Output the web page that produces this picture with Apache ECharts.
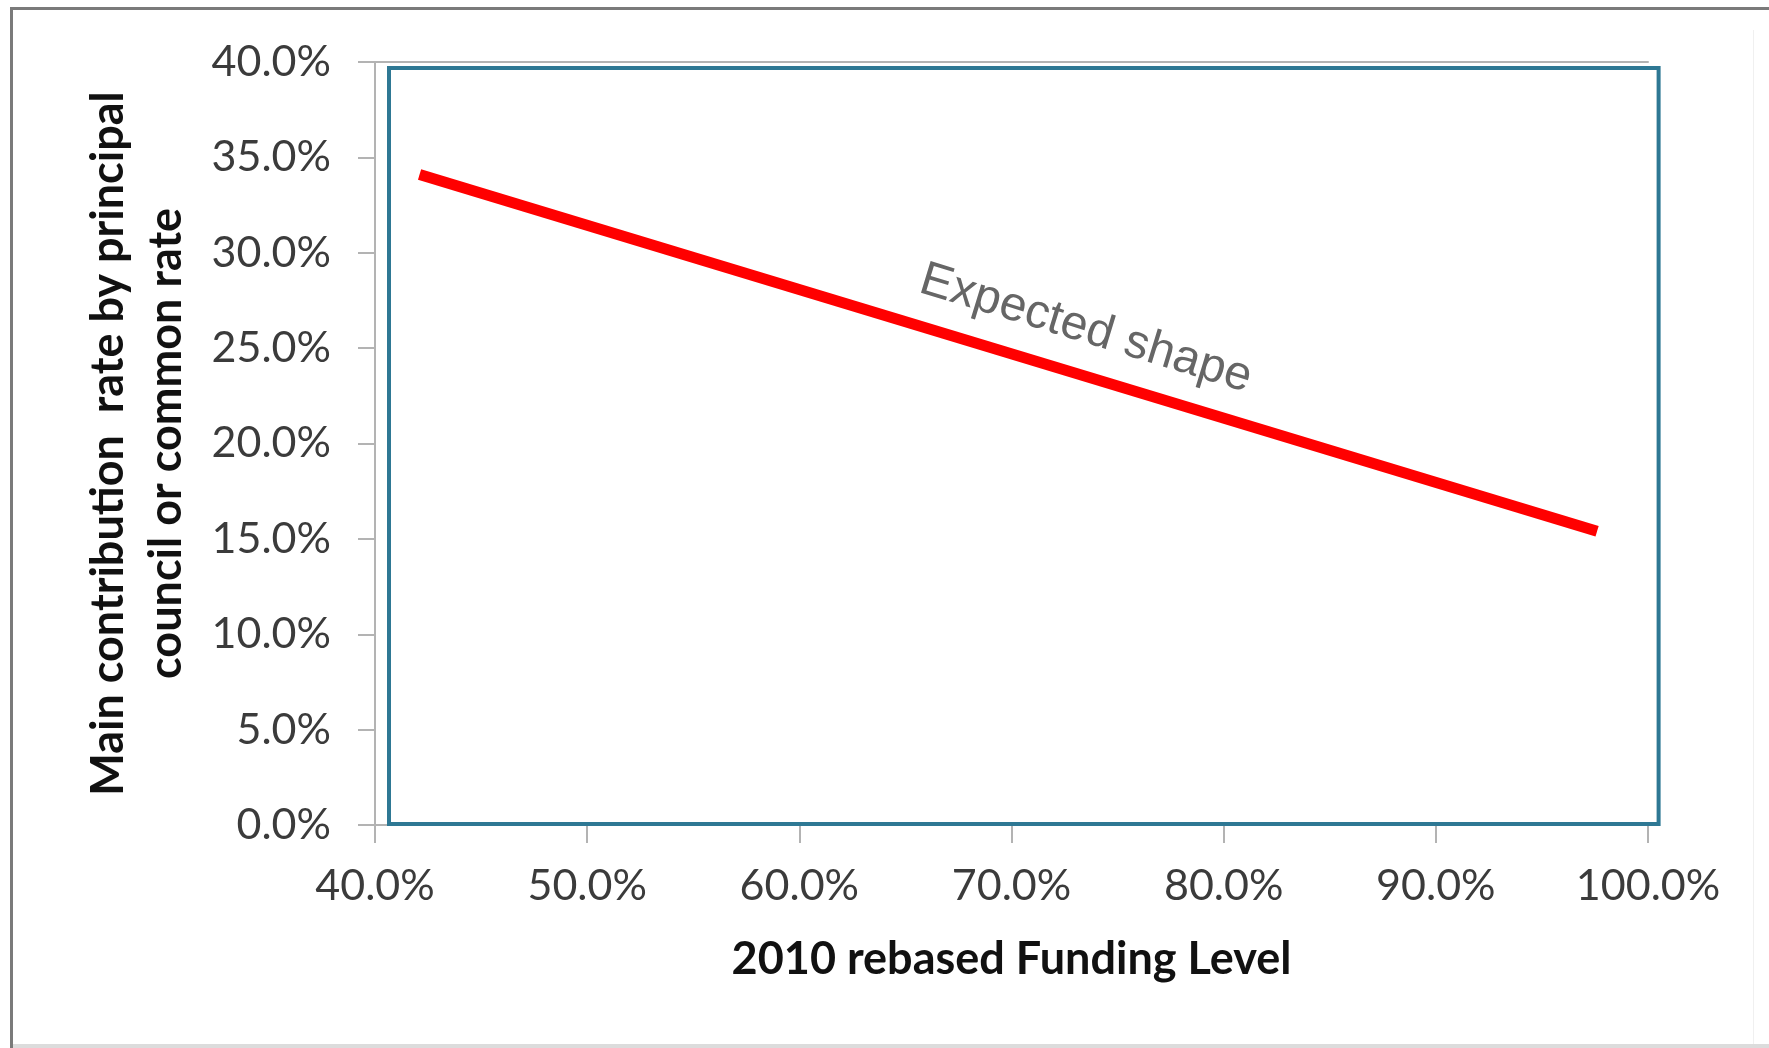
<!DOCTYPE html>
<html>
<head>
<meta charset="utf-8">
<title>Main contribution rate vs 2010 rebased Funding Level</title>
<script src="https://cdn.jsdelivr.net/npm/echarts@6/dist/echarts.min.js"></script>
<style>
  html, body { margin: 0; padding: 0; background: #ffffff; }
  #chart { width: 1769px; height: 1048px; }
</style>
</head>
<body>
<div id="chart"></div>
<script>
// Funding level (x, %) against contribution rate (y, %)
const fundingLevel = [42.1, 97.6];
const contributionRate = [34.1, 15.4];

// Axis ticks and their labels
const xTickValues = [40, 50, 60, 70, 80, 90, 100];
const xTickLabels = ['40.0%', '50.0%', '60.0%', '70.0%', '80.0%', '90.0%', '100.0%'];
const yTickValues = [0, 5, 10, 15, 20, 25, 30, 35, 40];
const yTickLabels = ['0.0%', '5.0%', '10.0%', '15.0%', '20.0%', '25.0%', '30.0%', '35.0%', '40.0%'];

// Titles and annotation
const xTitle = '2010 rebased Funding Level';
const yTitleLines = ['Main contribution  rate by principal', 'council or common rate'];
const curveLabel = 'Expected shape';
const curveLabelAt = [73.5, 26.0];

const lineData = fundingLevel.map((x, i) => [x, contributionRate[i]]);
const labelFor = (values, labels) => v => {
  const i = values.indexOf(Math.round(v * 1000) / 1000);
  return i >= 0 ? labels[i] : '';
};

const axisGray = '#b3b3b3';
const tickFont = { fontFamily: 'Lato', fontSize: 43, color: '#3b3b3b' };
const titleFont = { fontFamily: 'Lato', fontSize: 45, fontWeight: 'bold', color: '#111111' };

const chart = echarts.init(document.getElementById('chart'), null, { renderer: 'canvas' });

chart.setOption({
  animation: false,
  backgroundColor: '#ffffff',
  grid: { left: 375, right: 121, top: 62, bottom: 223, containLabel: false },
  xAxis: [
    {
      type: 'value',
      position: 'bottom',
      min: 40, max: 100, interval: 10,
      axisLine: { show: true, lineStyle: { color: axisGray, width: 2 } },
      axisTick: { show: true, inside: false, length: 18, lineStyle: { color: axisGray, width: 2 } },
      splitLine: { show: false },
      axisLabel: Object.assign({ margin: 40, formatter: labelFor(xTickValues, xTickLabels) }, tickFont),
      name: xTitle,
      nameLocation: 'middle',
      nameGap: 112,
      nameTextStyle: titleFont
    },
    {
      type: 'value',
      position: 'top',
      min: 40, max: 100, interval: 10,
      axisLine: { show: true, lineStyle: { color: axisGray, width: 2 } },
      axisTick: { show: false },
      axisLabel: { show: false },
      splitLine: { show: false }
    }
  ],
  yAxis: {
    type: 'value',
    min: 0, max: 40, interval: 5,
    axisLine: { show: true, lineStyle: { color: axisGray, width: 2 } },
    axisTick: { show: true, inside: false, length: 17, lineStyle: { color: axisGray, width: 2 } },
    splitLine: { show: false },
    axisLabel: Object.assign({ margin: 44, formatter: labelFor(yTickValues, yTickLabels) }, tickFont),
    name: yTitleLines.join('\n'),
    nameLocation: 'middle',
    nameRotate: 90,
    nameGap: 180,
    nameTextStyle: Object.assign({ lineHeight: 58, align: 'center' }, titleFont)
  },
  series: [
    {
      type: 'line',
      xAxisIndex: 0,
      data: lineData,
      symbol: 'none',
      clip: false,
      lineStyle: { color: '#ff0000', width: 11, cap: 'butt' },
      z: 3
    }
  ]
});

// Frame, plot box and the rotated annotation, placed from axis values
const px = (x, y) => chart.convertToPixel({ xAxisIndex: 0, yAxisIndex: 0 }, [x, y]);
const boxTL = px(40.66, 39.69);
const boxBR = px(100.5, 0.05);
const labelPos = px(curveLabelAt[0], curveLabelAt[1]);

chart.setOption({
  graphic: [
    // outer frame
    { type: 'line', shape: { x1: 10, y1: 8.5, x2: 1769, y2: 8.5 }, style: { stroke: '#7a7a7a', lineWidth: 3 }, z: 10 },
    { type: 'line', shape: { x1: 11.5, y1: 7, x2: 11.5, y2: 1048 }, style: { stroke: '#7a7a7a', lineWidth: 3 }, z: 10 },
    { type: 'rect', shape: { x: 10, y: 1044, width: 1759, height: 4 }, style: { fill: '#dcdcdc' }, z: 9 },
    { type: 'line', shape: { x1: 1753.5, y1: 30, x2: 1753.5, y2: 1044 }, style: { stroke: '#f0f0f0', lineWidth: 1 }, z: 9 },
    // plot box
    {
      type: 'rect',
      shape: { x: boxTL[0], y: boxTL[1], width: boxBR[0] - boxTL[0], height: boxBR[1] - boxTL[1] },
      style: { fill: 'none', stroke: '#2e7894', lineWidth: 4 },
      z: 20
    },
    // annotation along the line
    {
      type: 'text',
      x: labelPos[0], y: labelPos[1],
      rotation: -17 * Math.PI / 180,
      style: {
        text: curveLabel,
        fontFamily: 'Liberation Sans, Arial, sans-serif',
        fontSize: 48,
        fill: '#666666',
        align: 'center',
        verticalAlign: 'middle'
      },
      z: 21
    }
  ]
});
</script>
</body>
</html>
